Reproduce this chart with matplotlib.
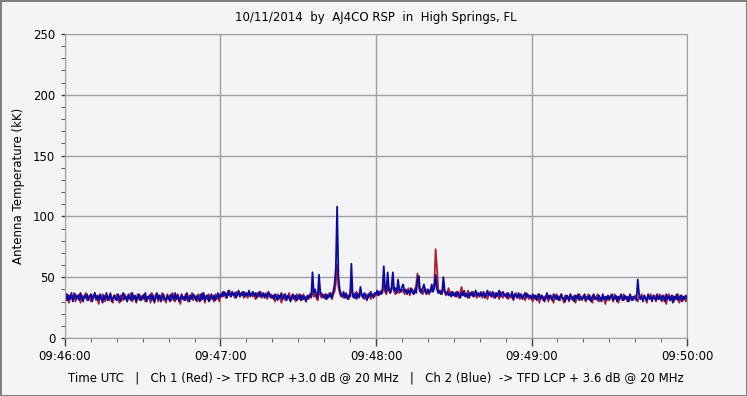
import numpy as np
import matplotlib
matplotlib.use("Agg")
from matplotlib import pyplot as plt
from matplotlib.ticker import MultipleLocator

# antenna temperature (kK), two samples per second from 09:46:00
ch1_red = [
    34, 31, 36, 29, 33, 35, 32, 37, 30, 34, 33, 36, 29, 35, 32, 34, 37, 31, 33, 35,
    30, 35, 33, 37, 31, 34, 28, 35, 32, 36, 33, 30, 35, 34, 31, 37, 32, 29, 35, 33,
    36, 32, 29, 35, 33, 31, 36, 34, 30, 35, 32, 37, 30, 34, 33, 29, 36, 32, 35, 31,
    33, 36, 30, 34, 32, 35, 29, 37, 33, 31, 36, 34, 30, 35, 32, 37, 31, 33, 29, 36,
    32, 35, 31, 37, 33, 30, 34, 36, 32, 28, 35, 33, 31, 36, 34, 30, 35, 33, 37, 31,
    35, 32, 30, 36, 34, 31, 37, 33, 29, 35, 32, 36, 31, 34, 33, 30, 36, 32, 35, 30,
    35, 37, 34, 38, 33, 36, 35, 39, 34, 37, 36, 33, 38, 35, 37, 34, 36, 38, 33, 37,
    36, 33, 38, 35, 37, 34, 36, 32, 37, 35, 34, 38, 33, 36, 35, 37, 32, 35, 34, 36,
    33, 35, 30, 34, 36, 32, 35, 29, 33, 36, 31, 34, 33, 37, 31, 35, 32, 34, 30, 36,
    34, 32, 35, 31, 36, 33, 30, 34, 32, 35, 33, 40, 34, 36, 33, 31, 42, 35, 33, 36,
    35, 32, 36, 33, 37, 34, 32, 36, 38, 45, 60, 42, 37, 34, 36, 33, 35, 37, 34, 32,
    36, 45, 34, 36, 33, 38, 35, 33, 38, 36, 34, 32, 36, 35, 33, 37, 32, 35, 36, 34,
    37, 35, 38, 36, 39, 37, 45, 38, 36, 42, 39, 37, 40, 44, 38, 36, 39, 40, 37, 39,
    38, 40, 36, 39, 37, 41, 35, 38, 40, 36, 39, 44, 53, 42, 38, 40, 36, 39, 41, 37,
    39, 36, 40, 38, 42, 45, 73, 58, 40, 37, 39, 36, 42, 38, 35, 37, 41, 36, 38, 35,
    37, 34, 38, 36, 33, 37, 42, 35, 38, 34, 36, 39, 33, 37, 35, 38, 34, 36, 33, 37,
    35, 38, 33, 36, 34, 37, 32, 36, 38, 34, 35, 33, 37, 34, 36, 32, 38, 35, 33, 36,
    34, 37, 32, 35, 33, 36, 31, 34, 37, 33, 35, 32, 36, 33, 34, 31, 37, 35, 32, 34,
    33, 30, 35, 32, 34, 36, 29, 33, 35, 31, 34, 32, 36, 30, 33, 35, 32, 29, 34, 36,
    32, 34, 31, 36, 33, 29, 35, 32, 34, 30, 36, 33, 31, 35, 29, 34, 32, 36, 33, 31,
    35, 32, 30, 34, 36, 31, 33, 29, 35, 32, 34, 36, 30, 33, 31, 35, 32, 28, 34, 33,
    31, 35, 33, 30, 36, 32, 34, 29, 33, 35, 31, 36, 32, 34, 30, 33, 35, 31, 34, 32,
    35, 32, 30, 34, 33, 36, 31, 35, 32, 29, 34, 33, 36, 31, 33, 35, 30, 34, 32, 36,
    33, 30, 35, 32, 28, 34, 36, 31, 33, 35, 30, 34, 32, 36, 29, 33, 35, 31, 34, 30,
    33,
]
ch2_blue = [
    33, 36, 31, 35, 32, 37, 30, 34, 36, 32, 35, 31, 37, 33, 30, 35, 33, 36, 31, 34,
    36, 30, 34, 37, 32, 35, 31, 36, 33, 29, 35, 32, 37, 31, 34, 36, 30, 33, 35, 32,
    31, 36, 33, 30, 35, 37, 32, 34, 30, 36, 33, 31, 37, 32, 35, 30, 34, 36, 31, 33,
    35, 32, 37, 30, 34, 33, 36, 31, 35, 29, 33, 37, 32, 35, 30, 34, 36, 32, 31, 35,
    33, 30, 36, 34, 31, 37, 32, 35, 30, 33, 36, 32, 34, 31, 37, 33, 30, 35, 32, 36,
    34, 31, 35, 33, 30, 36, 32, 37, 31, 34, 35, 30, 33, 36, 32, 35, 31, 34, 37, 33,
    36, 34, 38, 35, 37, 33, 39, 36, 34, 38, 35, 37, 33, 36, 39, 34, 37, 35, 38, 34,
    37, 35, 39, 34, 36, 38, 35, 37, 33, 36, 38, 34, 35, 37, 33, 36, 34, 38, 35, 33,
    35, 32, 36, 34, 31, 35, 33, 37, 32, 34, 36, 31, 35, 33, 30, 34, 36, 32, 35, 31,
    33, 36, 31, 35, 32, 34, 30, 35, 33, 36, 34, 54, 37, 40, 35, 33, 52, 38, 36, 34,
    33, 36, 32, 35, 34, 37, 33, 38, 44, 57, 108, 50, 40, 36, 34, 38, 33, 36, 32, 35,
    34, 61, 35, 33, 37, 32, 36, 34, 42, 35, 33, 37, 34, 31, 36, 34, 38, 35, 33, 37,
    36, 39, 35, 38, 36, 40, 59, 41, 38, 54, 40, 37, 42, 54, 39, 41, 37, 48, 40, 38,
    42, 44, 38, 40, 36, 39, 37, 41, 38, 36, 40, 37, 47, 51, 39, 37, 41, 44, 38, 36,
    40, 37, 39, 44, 38, 41, 52, 40, 37, 39, 36, 38, 50, 39, 36, 38, 35, 37, 34, 38,
    35, 37, 34, 38, 36, 33, 37, 35, 39, 34, 36, 33, 37, 35, 38, 34, 36, 39, 35, 37,
    34, 37, 35, 38, 33, 36, 39, 35, 37, 34, 38, 36, 33, 37, 35, 39, 34, 36, 38, 35,
    36, 33, 37, 35, 34, 38, 32, 36, 35, 33, 37, 34, 36, 32, 35, 37, 33, 36, 34, 35,
    32, 36, 33, 35, 31, 34, 36, 32, 35, 33, 30, 34, 37, 32, 35, 33, 31, 36, 34, 32,
    35, 31, 34, 36, 32, 33, 30, 35, 34, 31, 36, 32, 34, 30, 35, 33, 36, 31, 34, 32,
    33, 36, 31, 34, 32, 35, 30, 34, 36, 32, 33, 31, 35, 33, 30, 36, 32, 34, 31, 35,
    32, 34, 36, 31, 33, 35, 30, 34, 32, 36, 33, 31, 35, 32, 34, 30, 36, 33, 31, 34,
    33, 31, 48, 36, 32, 34, 30, 35, 33, 31, 36, 32, 34, 30, 35, 33, 31, 36, 32, 34,
    31, 35, 33, 30, 36, 32, 34, 31, 35, 29, 34, 32, 36, 31, 33, 35, 30, 34, 32, 35,
    33,
]
time_labels = ["09:46:00", "09:47:00", "09:48:00", "09:49:00", "09:50:00"]

bg = "#f4f4f7"
gridc = "#a0a0a0"

fig = plt.figure(figsize=(7.47, 3.96), dpi=100, facecolor=bg,
                 edgecolor="#808080", linewidth=2)
ax = fig.add_axes([0.087, 0.1465, 0.8327, 0.7676], facecolor=bg)

t_red = np.arange(len(ch1_red)) * 0.5
t_blue = np.arange(len(ch2_blue)) * 0.5
ax.plot(t_red, ch1_red, color="#b01c2e", lw=1.3)
ax.plot(t_blue, ch2_blue, color="#0a0aa0", lw=1.3)

ax.set_xlim(0, 240)
ax.set_ylim(0, 250)
ax.set_xticks(np.arange(0, 241, 60))
ax.set_xticklabels(time_labels)
ax.xaxis.set_minor_locator(MultipleLocator(10))
ax.yaxis.set_major_locator(MultipleLocator(50))
ax.yaxis.set_minor_locator(MultipleLocator(10))
ax.grid(True, which="major", color=gridc, lw=1)
ax.set_axisbelow(True)
for s in ax.spines.values():
    s.set_color(gridc)

ax.tick_params(axis="both", which="major", colors="#404040", labelcolor="black",
               labelsize=8.5, width=1)
ax.tick_params(axis="x", which="major", length=6, pad=3)
ax.tick_params(axis="x", which="minor", length=3, colors="#404040")
ax.tick_params(axis="y", which="major", length=3, pad=4)
ax.tick_params(axis="y", which="minor", length=3, colors="#404040")

ax.set_ylabel("Antenna Temperature (kK)", fontsize=8.5, labelpad=6)
fig.text(0.503, 0.955, "10/11/2014  by  AJ4CO RSP  in  High Springs, FL",
         ha="center", va="center", fontsize=8.5)
fig.text(0.503, 0.045,
         "Time UTC   |   Ch 1 (Red) -> TFD RCP +3.0 dB @ 20 MHz   |   "
         "Ch 2 (Blue)  -> TFD LCP + 3.6 dB @ 20 MHz",
         ha="center", va="center", fontsize=8.5)

fig.savefig("out.png", dpi=100, facecolor=bg, edgecolor="#808080")
